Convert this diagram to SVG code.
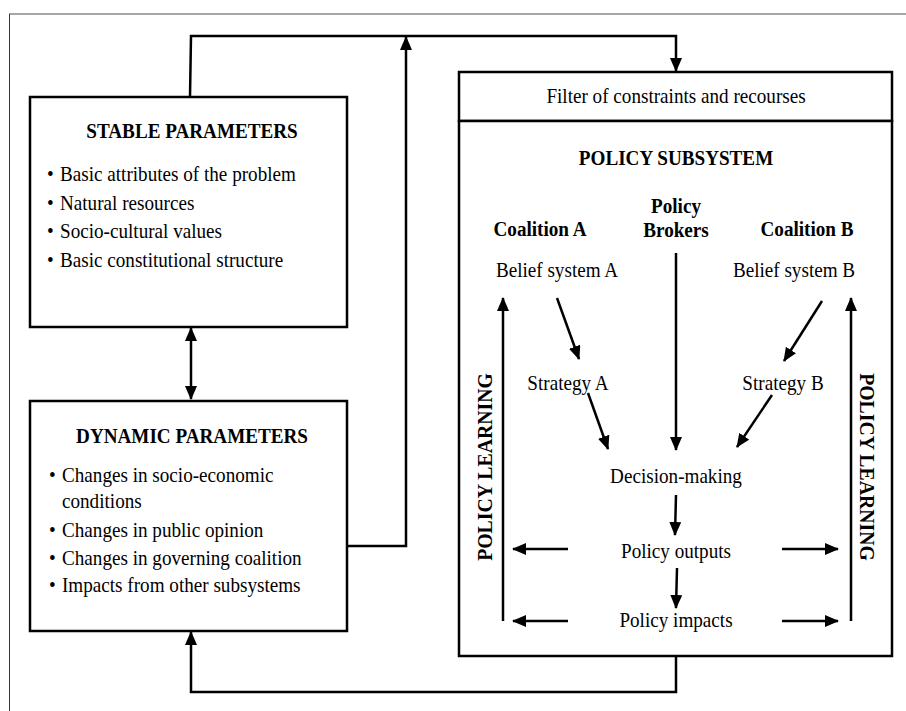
<svg xmlns="http://www.w3.org/2000/svg" width="906" height="711" viewBox="0 0 906 711">
<style>
text{font-family:"Liberation Serif","Times New Roman",serif;font-size:22px;fill:#000}
.b{font-weight:bold}
.c{text-anchor:middle}
.box{fill:#fff;stroke:#000;stroke-width:2.5}
.ln{fill:none;stroke:#000;stroke-width:2.5}
.ar{fill:none;stroke:#000;stroke-width:2.5;marker-end:url(#ah)}
</style>
<defs>
<marker id="ah" viewBox="0 0 14 12" refX="13" refY="6" markerWidth="14" markerHeight="12" markerUnits="userSpaceOnUse" orient="auto-start-reverse">
<path d="M0,0 L14,6 L0,12 Z" fill="#000"/>
</marker>
</defs>
<rect width="906" height="711" fill="#fff"/>
<g id="frame">
<line x1="9" y1="14" x2="906" y2="14" stroke="#888" stroke-width="1.5"/>
<line x1="9.5" y1="14" x2="9.5" y2="711" stroke="#333" stroke-width="1"/>
</g>
<g id="stable">
<rect class="box" x="30" y="97" width="317" height="230"/>
<text class="b c" transform="translate(192,138) scale(0.87,1)">STABLE PARAMETERS</text>
<text transform="translate(47,181) scale(0.87,1)">•</text><text transform="translate(60,181) scale(0.87,1)">Basic attributes of the problem</text>
<text transform="translate(47,210) scale(0.87,1)">•</text><text transform="translate(60,210) scale(0.87,1)">Natural resources</text>
<text transform="translate(47,238) scale(0.87,1)">•</text><text transform="translate(60,238) scale(0.87,1)">Socio-cultural values</text>
<text transform="translate(47,267) scale(0.87,1)">•</text><text transform="translate(60,267) scale(0.87,1)">Basic constitutional structure</text>
</g>
<g id="dynamic">
<rect class="box" x="30" y="401" width="317" height="230"/>
<text class="b c" transform="translate(192,443) scale(0.87,1)">DYNAMIC PARAMETERS</text>
<text transform="translate(49,482) scale(0.87,1)">•</text><text transform="translate(62,482) scale(0.87,1)">Changes in socio-economic</text>
<text transform="translate(62,508) scale(0.87,1)">conditions</text>
<text transform="translate(49,537) scale(0.87,1)">•</text><text transform="translate(62,537) scale(0.87,1)">Changes in public opinion</text>
<text transform="translate(49,565) scale(0.87,1)">•</text><text transform="translate(62,565) scale(0.87,1)">Changes in governing coalition</text>
<text transform="translate(49,592) scale(0.87,1)">•</text><text transform="translate(62,592) scale(0.87,1)">Impacts from other subsystems</text>
</g>
<g id="filter">
<rect class="box" x="459" y="72" width="433" height="49"/>
<text class="c" transform="translate(676,103) scale(0.87,1)">Filter of constraints and recourses</text>
</g>
<g id="subsystem">
<rect class="box" x="459" y="121" width="433" height="535"/>
<text class="b c" transform="translate(676,165) scale(0.87,1)">POLICY SUBSYSTEM</text>
</g>
<g id="coalitionA"><text class="b c" transform="translate(540,236) scale(0.87,1)">Coalition A</text></g>
<g id="brokers"><text class="b c" transform="translate(676,213) scale(0.87,1)">Policy</text><text class="b c" transform="translate(676,237) scale(0.87,1)">Brokers</text></g>
<g id="coalitionB"><text class="b c" transform="translate(807,236) scale(0.87,1)">Coalition B</text></g>
<g id="beliefA"><text class="c" transform="translate(557,277) scale(0.87,1)">Belief system A</text></g>
<g id="beliefB"><text class="c" transform="translate(794,277) scale(0.87,1)">Belief system B</text></g>
<g id="strategyA"><text class="c" transform="translate(568,390) scale(0.87,1)">Strategy A</text></g>
<g id="strategyB"><text class="c" transform="translate(783,390) scale(0.87,1)">Strategy B</text></g>
<g id="decision"><text class="c" transform="translate(676,483) scale(0.87,1)">Decision-making</text></g>
<g id="outputs"><text class="c" transform="translate(676,558) scale(0.87,1)">Policy outputs</text></g>
<g id="impacts"><text class="c" transform="translate(676,627) scale(0.87,1)">Policy impacts</text></g>
<g id="learningL"><text class="b c" transform="translate(492,467) rotate(-90) scale(0.9,1)">POLICY LEARNING</text></g>
<g id="learningR"><text class="b c" transform="translate(860,467) rotate(90) scale(0.9,1)">POLICY LEARNING</text></g>
<g id="connectors">
<path class="ar" d="M190,97 L191,36 L676,36 L676,71"/>
<path class="ar" d="M347,546 L406,546 L406,37"/>
<path class="ar" d="M676,656 L676,692 L191,692 L191,632"/>
<path class="ln" d="M191,328 L191,399" marker-start="url(#ah)" marker-end="url(#ah)"/>
<path class="ar" d="M557,298 L579,359"/>
<path class="ar" d="M822,301 L784,361"/>
<path class="ar" d="M676,253 L676,450"/>
<path class="ar" d="M588,393 L608,449"/>
<path class="ar" d="M772,395 L737,447"/>
<path class="ar" d="M676,495 L675,535"/>
<path class="ar" d="M677,568 L676,608"/>
<path class="ar" d="M568,549 L513,549"/>
<path class="ar" d="M568,621 L513,621"/>
<path class="ar" d="M782,549 L838,549"/>
<path class="ar" d="M782,621 L838,621"/>
<path class="ar" d="M503,621 L503,298"/>
<path class="ar" d="M851,621 L851,298"/>
</g>
</svg>
